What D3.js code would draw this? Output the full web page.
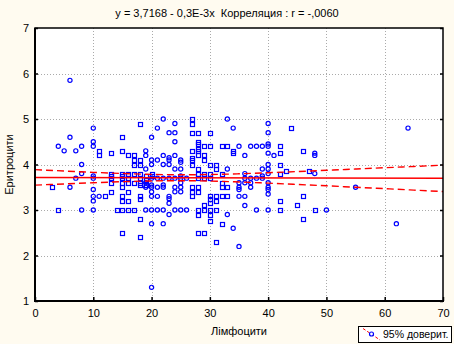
<!DOCTYPE html>
<html><head><meta charset="utf-8">
<script src="https://cdn.jsdelivr.net/npm/d3@7"></script>
<style>body{margin:0;background:#fffbf0} svg{display:block} text{white-space:pre}</style>
</head><body><svg id="c" width="454" height="344"></svg>
<script>
const titleText = "y = 3,7168 - 0,3E-3x  Корреляция : r = -,0060";
const xLabel = "Лімфоцити";
const yLabel = "Еритроцити";
const legendLabel = "95% доверит.";
const xTicks = [0,10,20,30,40,50,60,70];
const yTicks = [1,2,3,4,5,6,7];
const regIntercept = 3.7168, regSlope = -0.0003;

const circlePoints = [
 [4,4.4],[5,4.3],[6,5.85],[6,4.6],[6,3.5],[7,4.3],[7,3.7],[8,4.4],[8,4.0],[8,3.8],[8,3.0],
 [10,4.8],[10,4.5],[10,4.4],[10,3.75],[10,3.7],[10,3.45],[10,3.3],[10,3.2],[10,3.0],[11,3.3],
 [19,4.3],[19,4.2],[19,3.9],[19,3.6],[19,3.5],[19,3.0],
 [20,4.6],[20,4.1],[20,4.0],[20,3.7],[20,3.55],[20,3.5],[20,3.4],[20,3.3],[20,3.0],[20,2.7],[20,1.3],
 [21,4.8],[21,4.1],[21,3.7],[21,3.5],[21,3.3],[21,3.0],
 [22,5.0],[22,4.2],[22,4.0],[22,3.7],[22,3.55],[22,3.5],[22,3.0],[22,2.7],
 [23,4.7],[23,4.15],[23,4.1],[23,4.0],[23,3.7],[23,3.3],[23,3.25],[23,3.15],[23,2.9],
 [24,4.9],[24,4.7],[24,4.5],[24,4.2],[24,3.9],[24,3.7],[24,3.5],[24,3.4],[24,3.0],
 [25,4.1],[25,4.05],[25,3.9],[25,3.75],[25,3.7],[25,3.6],[25,3.5],[25,3.4],[25,3.0],
 [26,3.7],[26,3.0],
 [33,5.0],[33,3.9],[33,2.9],[34,4.8],[34,2.6],
 [35,4.4],[35,3.6],[35,3.5],[35,3.45],[35,3.3],[35,2.2],
 [36,4.2],[36,3.8],[36,3.7],[36,3.6],[36,3.3],[36,3.1],
 [37,4.4],[37,3.7],[37,3.6],[37,3.5],[38,4.4],[38,3.7],[38,3.0],
 [39,4.4],[39,3.9],[39,3.75],[39,3.7],
 [40,4.9],[40,4.7],[40,4.45],[40,4.4],[40,4.25],[40,4.0],[40,3.9],[40,3.8],[40,3.6],[40,3.5],[40,3.45],[40,3.35],[40,3.0],
 [41,4.2],[48,4.25],[48,4.2],[48,3.8],[50,3.0],[55,3.5],[62,2.7],[64,4.8]
];
const squarePoints = [
 [3,3.5],[4,3.0],[11,4.3],[11,4.2],[12,3.3],
 [13,4.25],[13,3.8],[13,3.75],[13,3.7],[13,3.6],[13,3.4],[14,3.0],
 [15,4.6],[15,4.3],[15,3.8],[15,3.75],[15,3.7],[15,3.6],[15,3.5],[15,3.3],[15,3.2],[15,3.0],[15,2.5],
 [16,4.2],[16,3.8],[16,3.7],[16,3.6],[16,3.4],[16,3.2],[16,3.0],
 [17,4.2],[17,4.1],[17,4.0],[17,3.8],[17,3.6],[17,3.0],
 [18,4.9],[18,4.1],[18,4.0],[18,3.8],[18,3.7],[18,3.6],[18,3.55],[18,3.3],[18,3.25],[18,2.8],[18,2.4],
 [19,3.75],[19,3.65],[19,3.55],[20,3.8],[20,3.75],
 [27,5.0],[27,4.9],[27,4.7],[27,4.3],[27,4.15],[27,4.1],[27,4.0],[27,3.5],[27,3.4],[27,3.3],
 [28,4.7],[28,4.5],[28,4.45],[28,4.35],[28,4.3],[28,4.2],[28,3.9],[28,3.8],[28,3.7],[28,3.5],[28,3.4],[28,3.0],[28,2.9],[28,2.5],
 [29,4.4],[29,4.2],[29,4.1],[29,3.8],[29,3.7],[29,3.1],[29,3.0],[29,2.5],
 [30,4.7],[30,4.4],[30,4.0],[30,3.8],[30,3.7],[30,3.3],[30,3.25],[30,3.15],[30,3.0],[30,2.9],[30,2.75],
 [31,4.0],[31,3.9],[31,3.3],[31,3.2],[31,3.0],[31,2.3],
 [32,4.4],[32,3.8],[32,3.6],[32,3.5],[32,3.3],[32,2.7],
 [33,4.4],[33,3.5],[33,3.3],[34,4.3],[34,4.25],
 [42,4.4],[42,4.25],[42,4.0],[42,3.8],[42,3.2],[42,3.0],[43,3.85],[44,4.8],[45,3.1],
 [46,4.3],[46,3.3],[46,2.8],[47,3.85],[48,3.0]
];
const bandX =     [0,5,10,15,20,25,30,35,40,45,50,55,60,65,70];
const bandUpper = [3.887,3.857,3.828,3.802,3.783,3.774,3.780,3.796,3.819,3.845,3.872,3.900,3.929,3.957,3.986];
const bandLower = [3.547,3.573,3.599,3.622,3.639,3.644,3.636,3.616,3.590,3.561,3.532,3.500,3.469,3.437,3.406];

const W=454,H=344, L=35,R=443,T=28,B=301;
const svg=d3.select("#c");
const font="'Liberation Sans', Arial, sans-serif";
svg.append("rect").attr("width",W).attr("height",H).attr("fill","#fffbf0");
const x=d3.scaleLinear().domain([0,70]).range([L,R]);
const y=d3.scaleLinear().domain([1,7]).range([B,T]);
svg.append("rect").attr("x",L).attr("y",T).attr("width",R-L).attr("height",B-T).attr("fill","#fff");

// grid
const grid=svg.append("g").attr("stroke","#aaa").attr("stroke-width",1).attr("stroke-dasharray","1,2");
grid.selectAll("line.v").data(xTicks.slice(1,-1)).join("line")
 .attr("x1",d=>Math.round(x(d))+0.5).attr("x2",d=>Math.round(x(d))+0.5).attr("y1",T).attr("y2",B);
grid.selectAll("line.h").data(yTicks.slice(1,-1)).join("line")
 .attr("y1",d=>Math.round(y(d))+0.5).attr("y2",d=>Math.round(y(d))+0.5).attr("x1",L).attr("x2",R);

// points
svg.append("clipPath").attr("id","clp").append("rect").attr("x",L).attr("y",T).attr("width",R-L).attr("height",B-T);
const pts=svg.append("g").attr("clip-path","url(#clp)");
pts.selectAll("circle").data(circlePoints).join("circle")
 .attr("cx",d=>x(d[0])).attr("cy",d=>y(d[1])).attr("r",2.1)
 .attr("fill","none").attr("stroke","#0000ff").attr("stroke-width",1.2);
pts.selectAll("rect").data(squarePoints).join("rect")
 .attr("x",d=>Math.round(x(d[0]))-1.5).attr("y",d=>Math.round(y(d[1]))-1.5).attr("width",4).attr("height",4)
 .attr("fill","none").attr("stroke","#0000ff").attr("stroke-width",1.2);

// regression + bands
const lines=svg.append("g").attr("clip-path","url(#clp)");
lines.append("line").attr("x1",x(0)).attr("x2",x(70))
 .attr("y1",y(regIntercept)).attr("y2",y(regIntercept+regSlope*70))
 .attr("stroke","#ff0000").attr("stroke-width",1.5);
const bandLine=d3.line().x(d=>x(d[0])).y(d=>y(d[1])).curve(d3.curveMonotoneX);
[bandUpper,bandLower].forEach(arr=>{
 lines.append("path").attr("d",bandLine(bandX.map((v,i)=>[v,arr[i]])))
  .attr("fill","none").attr("stroke","#ff0000").attr("stroke-width",1.4).attr("stroke-dasharray","7,4");
});

// frame
svg.append("rect").attr("x",L).attr("y",T).attr("width",R-L).attr("height",B-T)
 .attr("fill","none").attr("stroke","#000").attr("stroke-width",1.5);
svg.append("line").attr("x1",L).attr("x2",L).attr("y1",T).attr("y2",B+1).attr("stroke","#000").attr("stroke-width",2);
svg.append("line").attr("x1",L-1).attr("x2",R+1).attr("y1",B).attr("y2",B).attr("stroke","#000").attr("stroke-width",2);

// axes
const ax=d3.axisBottom(x).tickValues(xTicks).tickSizeInner(-4).tickSizeOuter(0).tickPadding(8).tickFormat(d3.format("d"));
const gx=svg.append("g").attr("transform",`translate(0,${B})`).call(ax);
const ay=d3.axisLeft(y).tickValues(yTicks).tickSizeInner(-3).tickSizeOuter(0).tickPadding(6).tickFormat(d3.format("d"));
const gy=svg.append("g").attr("transform",`translate(${L},0)`).call(ay);
const ayr=d3.axisRight(y).tickValues(yTicks).tickSizeInner(-3).tickSizeOuter(0).tickFormat("");
const gyr=svg.append("g").attr("transform",`translate(${R},0)`).call(ayr);
[gx,gy,gyr].forEach(g=>{
 g.select(".domain").remove();
 g.selectAll("line").attr("stroke","#000").attr("stroke-width",1.5);
 g.selectAll("text").attr("font-family",font).attr("font-size",11).attr("fill","#000");
});

// titles
svg.append("text").attr("x",227).attr("y",17).attr("text-anchor","middle")
 .attr("font-family",font).attr("font-size",11).text(titleText);
svg.append("text").attr("x",(L+R)/2).attr("y",335).attr("text-anchor","middle")
 .attr("font-family",font).attr("font-size",11).text(xLabel);
svg.append("text").attr("transform",`translate(13,${(T+B)/2}) rotate(-90)`).attr("text-anchor","middle")
 .attr("font-family",font).attr("font-size",11).text(yLabel);

// legend
const lg=svg.append("g");
lg.append("rect").attr("x",358.5).attr("y",326.5).attr("width",93).attr("height",16)
 .attr("fill","#fff").attr("stroke","#000").attr("stroke-width",1);
lg.append("line").attr("x1",363).attr("y1",328.5).attr("x2",380).attr("y2",340)
 .attr("stroke","#ff0000").attr("stroke-width",1).attr("stroke-dasharray","3,2");
lg.append("circle").attr("cx",371.5).attr("cy",334).attr("r",2).attr("fill","#fff").attr("stroke","#0000ff").attr("stroke-width",1.2);
lg.append("text").attr("x",383).attr("y",338).attr("font-family",font).attr("font-size",10.5).text(legendLabel);
</script></body></html>
